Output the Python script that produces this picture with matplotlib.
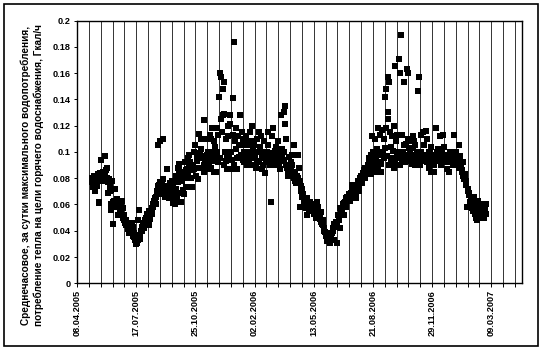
import numpy as np
import matplotlib
matplotlib.use("Agg")
import matplotlib.pyplot as plt
from matplotlib.patches import Rectangle

plt.rcParams['font.family'] = ['Liberation Sans', 'DejaVu Sans']

# day offsets from 08.04.2005 and hourly-average heat demand, Gcal/h
start = np.datetime64('2005-04-08')

summer05_days = [25, 27, 31, 32, 35, 30, 28, 37, 38, 41, 40, 43, 44, 47, 44,
                 50, 48, 51, 53, 54, 56, 57, 59, 57, 58, 61, 64, 63, 65,
                 68, 67, 69, 72, 70, 74, 76, 78, 80, 82, 84, 82,
                 87, 90, 91, 93, 94, 88, 97, 100, 103, 104, 103, 102, 106,
                 107, 110, 112, 113, 115, 116, 119, 117, 122, 124, 121,
                 128, 131, 133, 134, 137, 140, 142, 137, 141, 145, 143, 145,
                 147, 149, 152, 150, 153, 155,
                 26, 29, 33, 34, 36, 39, 42, 45, 46, 49, 52, 55, 60, 62, 66,
                 71, 73, 75, 77, 79, 81, 83, 85, 86, 89, 92, 95, 96, 98, 99,
                 101, 105, 108, 109, 111, 114, 118, 120, 123, 125, 126, 127,
                 129, 130, 132, 135, 136, 138, 139, 144, 146, 148, 151, 154]
summer05_vals = [.077, .073, .070, .078, .083, .080, .075, .062, .061, .094, .080, .082, .085, .097, .078,
                 .088, .083, .080, .069, .079, .070, .071, .078, .060, .056, .045, .072, .063, .058,
                 .064, .061, .058, .055, .052, .060, .063, .057, .052, .048, .046, .047,
                 .044, .042, .040, .046, .043, .038, .035, .030, .033, .056, .048, .031, .034,
                 .036, .040, .044, .042, .048, .050, .053, .046, .055, .052, .044,
                 .058, .062, .060, .066, .074, .077, .072, .105, .108, .110, .068, .079,
                 .070, .066, .087, .073, .069, .065,
                 .080, .082, .074, .079, .081, .084, .078, .083, .081, .086, .077, .073, .062, .060, .058,
                 .058, .056, .054, .050, .048, .046, .044, .045, .041, .039, .038, .036, .038, .033, .036,
                 .034, .037, .040, .043, .046, .045, .049, .051, .049, .055, .057, .053,
                 .060, .063, .065, .068, .070, .072, .075, .075, .072, .068, .070, .074]

winter06_days = [158, 161, 162, 165, 159, 163, 166, 169, 171, 168, 173, 174, 175, 172,
                 178, 180, 182, 184, 181, 187, 190, 188, 193, 194, 192,
                 197, 199, 202, 198, 204, 201, 206, 205, 208, 211, 209, 214, 214, 215, 217,
                 218, 221, 222, 224, 225, 221, 228, 230, 231, 233, 234, 227,
                 240, 241, 244, 243, 237, 239, 245, 238, 235,
                 249, 247, 246, 249, 252, 251, 253, 255,
                 258, 259, 261, 263, 265, 264, 257, 260,
                 268, 267, 271, 276, 273, 270, 279, 281, 283, 280, 284, 277,
                 287, 289, 292, 293, 294, 290, 296, 298, 300, 302, 305, 304, 299,
                 308, 311, 310, 312, 314, 316, 318, 320, 322, 323, 327, 324, 317,
                 332, 329, 333, 330, 335, 336, 338, 340, 343, 344, 339, 345,
                 349, 352, 351, 353, 349, 348, 355, 358, 361, 364, 366, 363, 360,
                 369, 371, 374, 376, 370, 375, 373,
                 156, 157, 160, 164, 167, 170, 176, 177, 179, 183, 185, 189, 191, 195,
                 186, 196, 200, 203, 207, 210, 213, 216, 219, 223, 226, 229, 232, 236,
                 242, 248, 250, 254, 256, 262, 266, 269, 272, 274, 278, 282, 285, 286,
                 288, 291, 295, 297, 301, 303, 306, 307, 309, 313, 315, 319, 321, 325,
                 326, 328, 331, 334, 337, 341, 342, 346, 347, 350, 354, 356, 357, 359,
                 362, 365, 367, 368, 372]
winter06_vals = [.076, .078, .061, .063, .071, .075, .060, .066, .088, .082, .086, .069, .062, .091,
                 .078, .085, .092, .073, .068, .095, .098, .084, .090, .073, .080,
                 .100, .105, .093, .087, .079, .082, .114, .099, .098, .095, .110, .090, .124, .085, .092,
                 .110, .087, .100, .095, .113, .093, .118, .100, .085, .095, .104, .110,
                 .142, .160, .157, .125, .118, .113, .115, .092, .085,
                 .153, .148, .128, .129, .110, .093, .087, .120,
                 .128, .121, .100, .141, .184, .113, .097, .087,
                 .118, .108, .087, .128, .105, .095, .115, .110, .100, .094, .108, .098,
                 .090, .105, .115, .100, .108, .092, .120, .095, .090, .100, .110, .093, .105,
                 .115, .112, .100, .087, .095, .108, .084, .097, .115, .105, .062, .094, .100,
                 .118, .112, .097, .095, .090, .104, .100, .092, .087, .095, .108, .128,
                 .130, .135, .121, .110, .100, .093, .088, .096, .092, .098, .105, .090, .083,
                 .085, .082, .080, .078, .076, .088, .098,
                 .067, .070, .066, .069, .072, .077, .080, .083, .071, .080, .086, .088, .092, .086,
                 .087, .090, .088, .097, .088, .102, .097, .088, .098, .090, .088, .093, .108, .100,
                 .095, .090, .100, .096, .112, .094, .090, .102, .112, .096, .105, .092, .098, .112,
                 .095, .098, .090, .102, .096, .088, .100, .092, .104, .098, .090, .092, .100, .096,
                 .090, .099, .093, .101, .095, .098, .090, .096, .102, .094, .090, .086, .082, .089,
                 .086, .084, .080, .078, .076]

summer06_days = [379, 381, 382, 385, 377, 383, 388, 391, 392, 394, 395, 389,
                 398, 399, 402, 404, 405, 401, 408, 410, 412, 414, 416,
                 418, 420, 423, 425, 422, 428, 430, 432, 435, 434,
                 440, 438, 442, 444, 445, 441, 448, 450, 453, 455, 451,
                 457, 460, 461, 464, 466, 469, 471, 474, 475, 476,
                 479, 481, 483, 486, 487, 489, 491, 494, 496, 496,
                 378, 380, 384, 386, 387, 390, 393, 396, 397, 400, 403, 406, 407, 409,
                 411, 413, 415, 417, 419, 421, 424, 426, 427, 429, 431, 433, 436, 437,
                 439, 443, 446, 447, 449, 452, 454, 456, 458, 459, 462, 463, 465, 467,
                 468, 470, 472, 473, 477, 478, 480, 482, 484, 485, 488, 490, 492, 493,
                 495, 497, 498]
summer06_vals = [.074, .072, .068, .065, .058, .062, .065, .058, .055, .062, .060, .052,
                 .060, .057, .053, .050, .062, .055, .058, .050, .054, .045, .048,
                 .040, .036, .035, .038, .032, .031, .036, .040, .045, .033,
                 .031, .044, .048, .057, .042, .052, .055, .058, .062, .065, .052,
                 .066, .068, .063, .075, .070, .068, .065, .072, .078, .070,
                 .080, .076, .084, .080, .088, .085, .090, .095, .083, .098,
                 .070, .066, .063, .060, .057, .061, .057, .055, .058, .053, .056, .052, .055, .053,
                 .049, .047, .044, .042, .039, .037, .034, .036, .034, .033, .038, .042, .043, .047,
                 .046, .050, .054, .056, .060, .061, .058, .063, .065, .067, .066, .069, .072, .066,
                 .071, .073, .069, .074, .075, .077, .082, .079, .082, .086, .083, .087, .088, .092,
                 .090, .094, .086]

winter07_days = [499, 501, 503, 504, 506, 500, 509, 512, 513, 515, 510, 516,
                 520, 523, 525, 527, 525, 526, 522, 517, 529, 532, 534, 535, 530, 536,
                 538, 544, 545, 541, 540, 543, 546, 547, 552, 550, 553, 555, 548,
                 558, 560, 559, 562, 565, 563, 568, 571, 572, 574, 576, 569,
                 578, 581, 582, 585, 584, 579, 589, 591, 593, 595, 594, 588,
                 599, 601, 603, 605, 606, 598, 609, 611, 613, 615, 617,
                 619, 621, 622, 625, 627, 630, 631, 633, 635, 637, 628,
                 639, 641, 644, 646, 645, 648, 650, 652, 654, 656, 653,
                 658, 660, 662, 659, 664, 666, 668, 670, 672, 674, 671, 676, 677,
                 680, 681, 684, 686, 689, 691, 692,
                 502, 505, 507, 508, 511, 514, 518, 519, 521, 524, 528, 531, 533, 537,
                 539, 542, 549, 551, 554, 556, 557, 561, 564, 566, 567, 570, 573, 575,
                 577, 580, 583, 586, 587, 590, 592, 596, 597, 600, 602, 604, 607, 608,
                 610, 612, 614, 616, 618, 620, 623, 624, 626, 629, 632, 634, 636, 638,
                 640, 642, 643, 647, 649, 651, 655, 657, 661, 663, 665, 667, 669, 673,
                 675, 678, 679, 682, 683, 685, 687, 688, 690]
winter07_vals = [.112, .100, .090, .110, .085, .095, .118, .113, .085, .100, .092, .117,
                 .142, .148, .157, .153, .125, .130, .118, .100, .115, .112, .101, .088, .094, .120,
                 .165, .171, .160, .113, .100, .095, .090, .189, .153, .113, .105, .092, .098,
                 .163, .160, .110, .100, .093, .108, .112, .105, .090, .100, .146, .108,
                 .157, .113, .100, .095, .115, .090, .116, .110, .097, .088, .100, .093,
                 .104, .098, .085, .096, .118, .085, .100, .093, .112, .090, .098,
                 .113, .104, .095, .087, .093, .100, .093, .097, .090, .113, .085,
                 .092, .100, .090, .088, .105, .097, .085, .082, .079, .083, .092,
                 .075, .072, .069, .058, .062, .060, .057, .055, .053, .050, .066, .048, .063,
                 .058, .052, .060, .055, .057, .053, .060,
                 .097, .093, .102, .089, .098, .091, .095, .110, .103, .097, .090, .104, .095, .092,
                 .108, .100, .094, .100, .098, .106, .095, .103, .097, .091, .103, .095, .098, .092,
                 .100, .096, .093, .098, .105, .095, .092, .095, .100, .092, .097, .090, .094, .097,
                 .102, .096, .093, .100, .095, .097, .092, .098, .095, .092, .098, .094, .096, .093,
                 .095, .091, .094, .090, .088, .086, .080, .078, .070, .067, .064, .062, .059, .058,
                 .055, .052, .056, .050, .054, .052, .050, .058, .055]

tick_days = [0, 100, 200, 300, 400, 500, 600, 700]
grid_step = 20
last_day = 752
y_ticks = [0, 0.02, 0.04, 0.06, 0.08, 0.1, 0.12, 0.14, 0.16, 0.18, 0.2]

ylabel = ('Среднечасовое, за сутки максимального водопотребления,\n'
          'потребление тепла на цели горячего водоснабжения, Гкал/ч')

days = np.array(summer05_days + winter06_days + summer06_days + winter07_days)
vals = np.array(summer05_vals + winter06_vals + summer06_vals + winter07_vals)
dates = start + days.astype('timedelta64[D]')

fig = plt.figure(figsize=(5.48, 3.58), dpi=100)
ax = fig.add_axes([77 / 548, 1 - 283.3 / 358, 445 / 548, 262.8 / 358])

ax.scatter(dates, vals, marker='s', s=15, c='black', linewidths=0, zorder=3)

ax.set_xlim(start, start + np.timedelta64(last_day, 'D'))
ax.set_ylim(0, 0.2)

major = [start + np.timedelta64(d, 'D') for d in tick_days]
minor = [start + np.timedelta64(int(d), 'D') for d in np.arange(0, last_day, grid_step)]
ax.set_xticks(major)
ax.set_xticklabels([str(m.astype(object).strftime('%d.%m.%Y')) for m in major],
                   rotation=90, fontsize=6.6, fontweight='bold')
ax.set_xticks(minor, minor=True)
ax.grid(axis='x', which='both', color='#333333', lw=0.7)
ax.tick_params(axis='x', which='both', direction='out', length=3, width=0.7, pad=2)

ax.set_yticks(y_ticks)
ax.set_yticklabels(['{:g}'.format(v) for v in y_ticks], fontsize=6.6, fontweight='bold')
ax.tick_params(axis='y', direction='out', length=2.5, width=0.7, pad=2)

for s in ax.spines.values():
    s.set_linewidth(1.0)

fig.text(32 / 548, 1 - 175 / 358, ylabel, rotation=90, ha='center', va='center',
         multialignment='center', fontsize=7.2, fontweight='bold', linespacing=1.25)

fig.patches.append(Rectangle((3.5 / 548, 1 - 346 / 358), 534.5 / 548, 342 / 358,
                             transform=fig.transFigure, fill=False, lw=1.2,
                             edgecolor='black'))

fig.savefig('out.png', dpi=100)
